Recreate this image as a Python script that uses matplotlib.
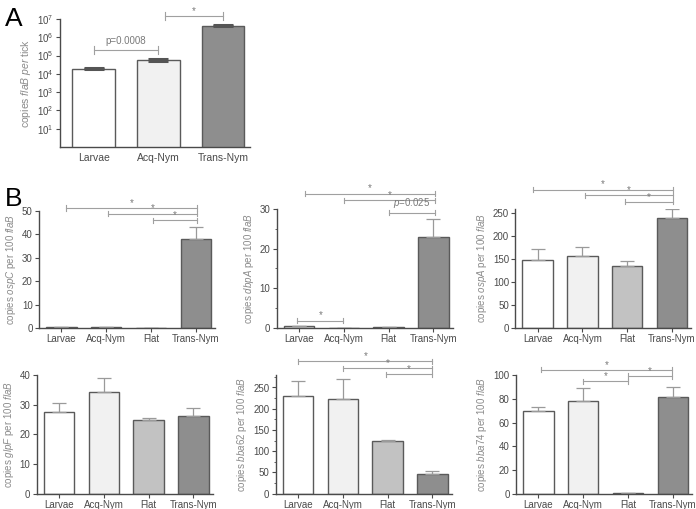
import matplotlib
matplotlib.use("Agg")
import matplotlib.pyplot as plt
import numpy as np

plt.rcParams['font.family'] = ['Liberation Sans', 'DejaVu Sans']
plt.rcParams['mathtext.fontset'] = 'custom'
plt.rcParams['mathtext.rm'] = 'Liberation Sans'
plt.rcParams['mathtext.it'] = 'Liberation Sans:italic'

# ---- data ----
groups_a = ["Larvae", "Acq-Nym", "Trans-Nym"]
flab_copies = [1.9e4, 5.6e4, 4.4e6]
flab_err = [1.2e3, 5e3, 4e5]

groups_b = ["Larvae", "Acq-Nym", "Flat", "Trans-Nym"]
ospc = [0.5, 0.5, 0.0, 38.0]
ospc_err = [0.0, 0.0, 0.0, 5.0]
dbpa = [0.5, 0.0, 0.3, 23.0]
dbpa_err = [0.0, 0.0, 0.0, 4.5]
ospa = [148, 156, 134, 239]
ospa_err = [23, 20, 12, 20]
glpf = [27.6, 34.4, 24.7, 26.1]
glpf_err = [2.9, 4.5, 0.9, 2.8]
bba62 = [229, 224, 123, 46]
bba62_err = [37, 46, 3, 8]
bba74 = [69.5, 78, 0.3, 81.7]
bba74_err = [3.2, 10.8, 0.0, 8.7]

# brackets: (x1, x2, y, label)
brk_a = [(0, 1, 2.0e5, "p=0.0008"), (1.1, 2.0, 1.5e7, "*")]
brk_ospc = [(0.1, 3.03, 51.3, "*"), (1.05, 3.03, 48.9, "*"), (2.05, 3.03, 46.0, "*")]
brk_dbpa = [(0.14, 3.03, 33.9, "*"), (1.0, 3.03, 32.2, "*"),
            (2.0, 3.03, 29.1, "$\\it{p}$=0.025"), (-0.04, 0.99, 1.8, "*")]
brk_ospa = [(-0.1, 3.02, 302, "*"), (1.05, 3.02, 289, "*"), (1.96, 3.02, 275, "*")]
brk_bba62 = [(0.0, 3.0, 312, "*"), (1.0, 3.0, 295, "*"), (1.96, 3.0, 281, "*")]
brk_bba74 = [(0.06, 2.98, 104.5, "*"), (1.0, 2.0, 94.7, "*"), (2.0, 2.98, 99.4, "*")]

colors = ["#ffffff", "#f1f1f1", "#c2c2c2", "#8e8e8e"]
edge = "#5a5a5a"
axcol = "#4a4a4a"
brcol = "#a0a0a0"
labcol = "#8a8a8a"

W, H = 696, 509
fig = plt.figure(figsize=(W / 100, H / 100), dpi=100)


def make_ax(left, top, bottom, width):
    return fig.add_axes([left / W, 1 - bottom / H, width / W, (bottom - top) / H])


def style(ax):
    for s in ["top", "right"]:
        ax.spines[s].set_visible(False)
    for s in ["left", "bottom"]:
        ax.spines[s].set_color(axcol)
        ax.spines[s].set_linewidth(1.0)
    ax.tick_params(colors=axcol, labelsize=7, length=3, width=0.8, pad=1.5)
    ax.tick_params(axis="x", labelsize=7)
    ax.set_facecolor("none")


def bracket(ax, x1, x2, y, label, log=False):
    if log:
        dy1, dy2 = y / 1.6, y * 1.6
    else:
        r = ax.get_ylim()[1]
        dy1, dy2 = y - r * 0.022, y + r * 0.022
    ax.plot([x1, x2], [y, y], color=brcol, lw=0.8, clip_on=False)
    for xx in (x1, x2):
        ax.plot([xx, xx], [dy1, dy2], color=brcol, lw=0.8, clip_on=False)
    fs = 7 if label == "*" else 7
    ax.text((x1 + x2) / 2, dy2 if label != "*" else y, label, ha="center",
            va="bottom", fontsize=fs, color="#7a7a7a", clip_on=False)


# ---- panel A ----
axa = make_ax(60, 19, 147, 190)
xa = np.arange(len(groups_a))
axa.bar(xa, flab_copies, width=0.66, color=[colors[0], colors[1], colors[3]],
        edgecolor=edge, linewidth=1.0, bottom=0)
axa.errorbar(xa, flab_copies, yerr=flab_err, fmt="none", ecolor="#555555",
             capsize=7, capthick=2.2, elinewidth=1)
axa.set_yscale("log")
axa.set_ylim(1, 1e7)
axa.set_xlim(-0.52, 2.42)
axa.set_yticks([10 ** k for k in range(1, 8)])
axa.set_xticks(xa)
axa.set_xticklabels(groups_a)
style(axa)
axa.tick_params(axis="x", length=0, labelsize=7.5, pad=4)
axa.tick_params(axis="y", which="minor", length=1.5, color=axcol)
axa.set_ylabel("copies $\\it{flaB\\ per}$ tick", fontsize=7.5, color=labcol, labelpad=3)
for b in brk_a:
    bracket(axa, *b, log=True)
fig.text(5 / W, 1 - 26 / H, "A", fontsize=19, color="black")
fig.text(5 / W, 1 - 206 / H, "B", fontsize=19, color="black")

# ---- panel B ----
panels = [
    (39, 328, 50 / 117, ospc, ospc_err, 50, np.arange(0, 51, 10), None, "ospC", brk_ospc),
    (276.7, 327.7, 30 / 118.7, dbpa, dbpa_err, 30, np.arange(0, 31, 10), 5, "dbpA", brk_dbpa),
    (515.3, 327.7, 1 / 0.4576, ospa, ospa_err, 260, np.arange(0, 251, 50), None, "ospA", brk_ospa),
    (36.7, 493.5, 40 / 118.6, glpf, glpf_err, 40, np.arange(0, 41, 10), None, "glpF", []),
    (275.7, 493.5, 1 / 0.424, bba62, bba62_err, 280, np.arange(0, 251, 50), 25, "bba62", brk_bba62),
    (516, 493.5, 100 / 118.3, bba74, bba74_err, 100, np.arange(0, 101, 20), None, "bba74", brk_bba74),
]

xb = np.arange(len(groups_b))
for left, bot, upp, vals, errs, ymax, yt, minor, gene, brks in panels:
    hpx = ymax / upp
    ax = make_ax(left, bot - hpx, bot, 176)
    ax.bar(xb, vals, width=0.68, color=colors, edgecolor=edge, linewidth=1.0)
    ax.errorbar(xb, vals, yerr=[np.zeros(4), errs], fmt="none", ecolor="#9a9a9a",
                capsize=5, elinewidth=0.9, capthick=0.9)
    ax.set_xlim(-0.5, 3.43)
    ax.set_ylim(0, ymax)
    ax.set_yticks(yt)
    if minor:
        ax.set_yticks(np.arange(0, ymax + 0.1, minor), minor=True)
        ax.tick_params(axis="y", which="minor", length=1.8, color=axcol)
    ax.set_xticks(xb)
    ax.set_xticklabels(groups_b)
    style(ax)
    ax.set_ylabel("copies $\\it{%s}$ per 100 $\\it{flaB}$" % gene, fontsize=7,
                  color=labcol, labelpad=3)
    for b in brks:
        bracket(ax, *b)

fig.savefig("out.png", dpi=100)
